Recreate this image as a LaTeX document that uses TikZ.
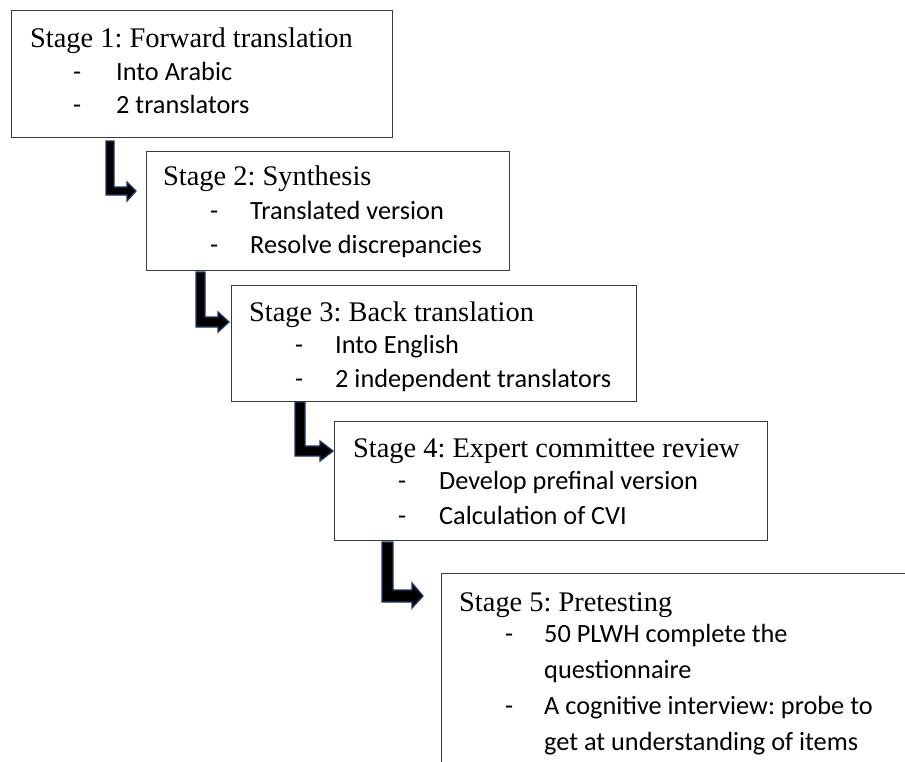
\documentclass[tikz,border=0pt]{standalone}
\usepackage{fontspec}
\setmainfont{Liberation Serif}
\newfontfamily\itemfont{Carlito}
\frenchspacing
\definecolor{arrowline}{HTML}{1F3864}
\definecolor{boxline}{HTML}{3A3A3A}
\tikzset{
  x=1pt, y=-1pt,
  stagebox/.style={draw=boxline, line width=1.1pt, fill=white, anchor=north west, inner sep=0pt},
  headtext/.style={anchor=base west, inner sep=0pt, font=\frenchspacing\fontsize{28.4}{34}\selectfont},
  itemtext/.style={anchor=base west, inner sep=0pt, font=\itemfont\frenchspacing\fontsize{26.3}{30}\selectfont},
  larrow/.style={fill=black, draw=arrowline, line width=1.3pt, line join=miter},
}
\begin{document}
\begin{tikzpicture}
\useasboundingbox (0,0) rectangle (905,761);
\clip (0,0) rectangle (905,761);
\fill[white] (0,0) rectangle (905,761);

% boxes
\node[stagebox, minimum width=381pt, minimum height=127pt] (b1) at (11,10) {};
\node[stagebox, minimum width=363pt, minimum height=119pt] (b2) at (146,151) {};
\node[stagebox, minimum width=405pt, minimum height=116pt] (b3) at (231,285) {};
\node[stagebox, minimum width=433pt, minimum height=119pt] (b4) at (334,421) {};
\node[stagebox, minimum width=500pt, minimum height=260pt] (b5) at (441,573) {};

% box 1
\node[headtext] (h1) at ([shift={(19,37)}]b1.north west) {Stage 1: Forward translation};
\node[itemtext] (d1a) at ([shift={(62,70)}]b1.north west) {-};
\node[itemtext] (t1a) at ([shift={(105,70)}]b1.north west) {Into Arabic};
\node[itemtext] (d1b) at ([shift={(62,103)}]b1.north west) {-};
\node[itemtext] (t1b) at ([shift={(105,103)}]b1.north west) {2 translators};

% box 2
\node[headtext] (h2) at ([shift={(17,34)}]b2.north west) {Stage 2: Synthesis};
\node[itemtext] (d2a) at ([shift={(64,68)}]b2.north west) {-};
\node[itemtext] (t2a) at ([shift={(104,68)}]b2.north west) {Translated version};
\node[itemtext] (d2b) at ([shift={(64,102)}]b2.north west) {-};
\node[itemtext] (t2b) at ([shift={(104,102)}]b2.north west) {Resolve discrepancies};

% box 3
\node[headtext] (h3) at ([shift={(18,36)}]b3.north west) {Stage 3: Back translation};
\node[itemtext] (d3a) at ([shift={(64,68)}]b3.north west) {-};
\node[itemtext] (t3a) at ([shift={(104,68)}]b3.north west) {Into English};
\node[itemtext] (d3b) at ([shift={(64,102)}]b3.north west) {-};
\node[itemtext] (t3b) at ([shift={(104,102)}]b3.north west) {2 independent translators};

% box 4
\node[headtext] (h4) at ([shift={(19,36)}]b4.north west) {Stage 4: Expert committee review};
\node[itemtext] (d4a) at ([shift={(64,68)}]b4.north west) {-};
\node[itemtext] (t4a) at ([shift={(105,68)}]b4.north west) {Develop prefinal version};
\node[itemtext] (d4b) at ([shift={(64,103)}]b4.north west) {-};
\node[itemtext] (t4b) at ([shift={(105,103)}]b4.north west) {Calculation of CVI};

% box 5
\node[headtext] (h5) at ([shift={(18,38)}]b5.north west) {Stage 5: Pretesting};
\node[itemtext] (d5a) at ([shift={(64,69)}]b5.north west) {-};
\node[itemtext] (t5a) at ([shift={(103,69)}]b5.north west) {50 PLWH complete the};
\node[itemtext] (t5b) at ([shift={(103,105)}]b5.north west) {questionnaire};
\node[itemtext] (d5c) at ([shift={(64,141)}]b5.north west) {-};
\node[itemtext] (t5c) at ([shift={(103,141)}]b5.north west) {A cognitive interview: probe to};
\node[itemtext] (t5d) at ([shift={(103,177)}]b5.north west) {get at understanding of items};

% L-shaped arrows
\draw[larrow] (106,141) -- (114,141) -- (114,187) -- (127,187) -- (127,182) -- (136,191)
  -- (127,201) -- (127,195) -- (106,195) -- cycle;
\draw[larrow] (196,272) -- (205,272) -- (205,317) -- (218,317) -- (218,312) -- (229,322)
  -- (218,332) -- (218,327) -- (196,327) -- cycle;
\draw[larrow] (295,402) -- (305,402) -- (305,446) -- (320,446) -- (320,441) -- (333,451)
  -- (320,461) -- (320,456) -- (295,456) -- cycle;
\draw[larrow] (382,542) -- (393,542) -- (393,590) -- (412,590) -- (412,583) -- (423,596)
  -- (412,608) -- (412,602) -- (382,602) -- cycle;
\end{tikzpicture}
\end{document}
